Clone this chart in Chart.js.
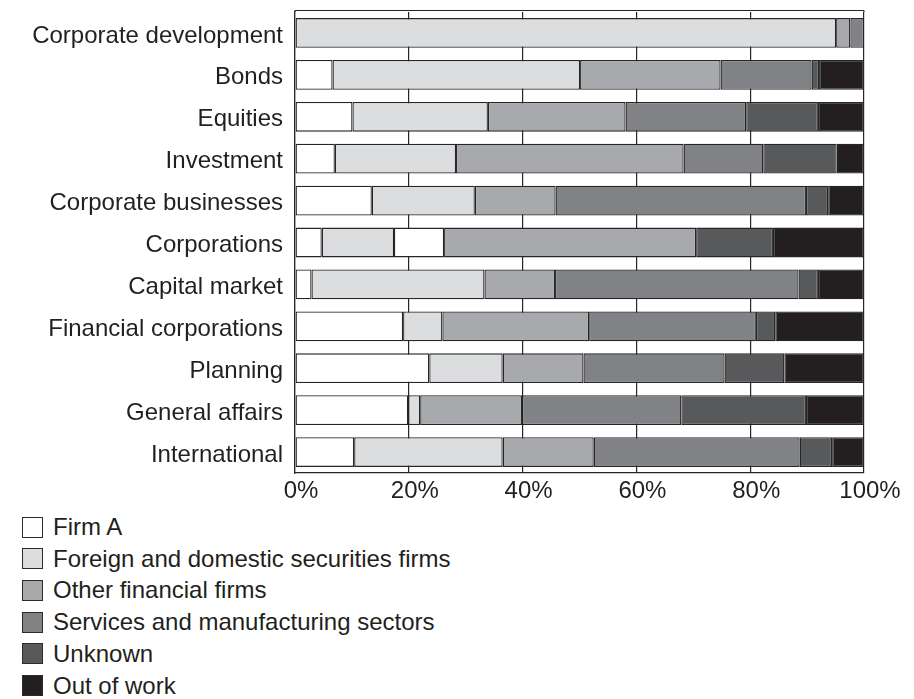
<!DOCTYPE html>
<html>
<head>
<meta charset="utf-8">
<script src="https://cdn.jsdelivr.net/npm/chart.js@4"></script>
<style>
  body { margin: 0; background: #fff; }
  #wrap { position: relative; width: 914px; height: 699px; }
  #chart-box { position: absolute; left: 0; top: 0; width: 914px; height: 505px; }
  .legend-item {
    position: absolute; left: 22px; height: 22px;
    display: flex; align-items: center;
    font-family: "Liberation Sans", Arial, sans-serif; font-size: 24px; color: #231f20;
  }
  .legend-item span.box {
    display: inline-block; width: 19px; height: 19px;
    border: 1px solid #2b2b2b; margin-right: 10px;
  }
</style>
</head>
<body>
<div id="wrap">
  <div id="chart-box"><canvas id="myChart"></canvas></div>
  <div id="legend"></div>
</div>
<script>
  const categories = [
    "Corporate development", "Bonds", "Equities", "Investment",
    "Corporate businesses", "Corporations", "Capital market",
    "Financial corporations", "Planning", "General affairs", "International"
  ]

  // shares in percent, one value per category
  const firmA          = [0, 6.6, 10.1, 7.0, 13.5, 4.7, 2.9, 19.0, 23.6, 19.9, 10.4]
  const securities     = [95.1, 43.5, 23.8, 21.3, 18.1, 12.7, 30.4, 6.9, 12.9, 2.1, 26.1]
  const firmASecond    = [0, 0, 0, 0, 0, 8.8, 0, 0, 0, 0, 0]
  const otherFinancial = [2.5, 24.7, 24.2, 40.0, 14.2, 44.3, 12.4, 25.8, 14.2, 17.9, 16.0]
  const servicesMfg    = [2.4, 16.0, 21.2, 14.0, 44.0, 0, 42.8, 29.3, 24.8, 28.0, 36.2]
  const unknown        = [0, 1.3, 12.6, 12.9, 3.9, 13.5, 3.4, 3.4, 10.5, 21.9, 5.7]
  const outOfWork      = [0, 7.9, 8.1, 4.8, 6.3, 16.0, 8.1, 15.6, 14.0, 10.2, 5.6]

  const xTicks = [0, 20, 40, 60, 80, 100]

  const series = [
    { label: "Firm A", data: firmA, color: "#ffffff", legend: true },
    { label: "Foreign and domestic securities firms", data: securities, color: "#dcdddf", legend: true },
    { label: "Firm A", data: firmASecond, color: "#ffffff", legend: false },
    { label: "Other financial firms", data: otherFinancial, color: "#a7a9ac", legend: true },
    { label: "Services and manufacturing sectors", data: servicesMfg, color: "#808285", legend: true },
    { label: "Unknown", data: unknown, color: "#58595b", legend: true },
    { label: "Out of work", data: outOfWork, color: "#231f20", legend: true }
  ]

  const font = { family: "'Liberation Sans', Arial, sans-serif", size: 24 }
  const lineColor = "#262626"

  // top edge of the frame, a little above the first bar slot
  const frameTop = {
    id: "frameTop",
    beforeDatasetsDraw(chart) {
      const { ctx, chartArea } = chart
      const y = chartArea.top - 1.5
      ctx.save()
      ctx.strokeStyle = lineColor
      ctx.lineWidth = 1.2
      ctx.beginPath()
      ctx.moveTo(chartArea.left, y)
      ctx.lineTo(chartArea.right, y)
      ctx.moveTo(chartArea.left, y)
      ctx.lineTo(chartArea.left, chartArea.top)
      ctx.moveTo(chartArea.right, y)
      ctx.lineTo(chartArea.right, chartArea.top)
      ctx.stroke()
      ctx.restore()
    }
  }

  const ctx = document.getElementById("myChart").getContext("2d")
  new Chart(ctx, {
    type: "bar",
    data: {
      labels: categories,
      datasets: series.map(s => ({
        label: s.label,
        data: s.data,
        backgroundColor: s.color,
        borderColor: lineColor,
        borderWidth: 1.3,
        borderSkipped: false,
        categoryPercentage: 1,
        barPercentage: 0.71
      }))
    },
    options: {
      indexAxis: "y",
      responsive: true,
      maintainAspectRatio: false,
      animation: false,
      layout: { padding: { top: 12, right: 50, left: 0, bottom: 0 } },
      plugins: {
        legend: { display: false },
        tooltip: { enabled: false }
      },
      scales: {
        x: {
          stacked: true,
          min: 0,
          max: 100,
          afterBuildTicks: scale => { scale.ticks = xTicks.map(v => ({ value: v })) },
          afterFit: scale => {
            scale.height = 32
            scale.paddingLeft = 0
            scale.paddingRight = 0
          },
          ticks: {
            color: "#231f20",
            font: font,
            padding: 4,
            labelOffset: 6,
            maxRotation: 0,
            callback: v => v + "%"
          },
          grid: { color: lineColor, lineWidth: 1.2, drawTicks: false },
          border: { display: true, color: lineColor, width: 1.2 }
        },
        y: {
          stacked: true,
          afterFit: scale => {
            scale.width = 295
            scale.paddingTop = 0
            scale.paddingBottom = 0
          },
          ticks: { color: "#231f20", font: font, padding: 12, labelOffset: 3 },
          grid: { display: false, drawTicks: false },
          border: { display: true, color: lineColor, width: 1.2 }
        }
      }
    },
    plugins: [frameTop]
  })

  // legend list under the chart
  const legend = document.getElementById("legend")
  series.filter(s => s.legend).forEach((s, i) => {
    const row = document.createElement("div")
    row.className = "legend-item"
    row.style.top = (516 + i * 31.7) + "px"
    const box = document.createElement("span")
    box.className = "box"
    box.style.background = s.color
    row.appendChild(box)
    row.appendChild(document.createTextNode(s.label))
    legend.appendChild(row)
  })
</script>
</body>
</html>
